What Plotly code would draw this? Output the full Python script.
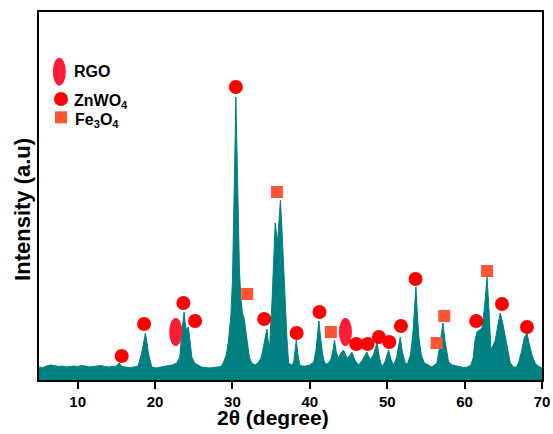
import plotly.graph_objects as go

# XRD pattern (2θ in degrees, intensity in arbitrary units)
two_theta = [5.0, 5.5, 6.0, 6.5, 7.0, 7.5, 8.0, 8.5, 9.0, 9.5, 10.0, 10.5, 11.0, 11.5, 12.0, 12.5,
             13.0, 13.5, 14.0, 14.5, 15.0, 15.35, 15.7, 16.2, 16.8, 17.3, 17.8, 18.28, 18.5, 18.75,
             19.0, 19.13, 19.57, 20.2, 20.7, 21.2, 21.7, 22.2, 22.8, 23.2, 23.4, 23.6, 23.75, 23.9,
             24.05, 24.3, 24.5, 24.75, 25.1, 25.5, 26.0, 26.5, 27.0, 27.5, 28.0, 28.5, 28.8, 29.2,
             29.5, 29.8, 30.0, 30.15, 30.3, 30.44, 30.6, 30.75, 30.9, 31.1, 31.3, 31.5, 31.7, 31.9,
             32.2, 32.5, 32.9, 33.3, 33.7, 34.0, 34.2, 34.45, 34.6, 34.8, 35.1, 35.3, 35.52, 35.82,
             36.0, 36.2, 36.4, 36.6, 36.8, 37.03, 37.25, 37.6, 37.9, 38.05, 38.25, 38.45, 38.7,
             39.0, 39.5, 40.0, 40.5, 40.8, 41.0, 41.17, 41.35, 41.6, 41.9, 42.3, 42.7, 43.0, 43.19,
             43.4, 43.7, 44.0, 44.35, 44.6, 44.79, 45.1, 45.43, 45.8, 46.3, 46.8, 47.37, 47.8,
             48.2, 48.67, 49.0, 49.3, 49.7, 50.17, 50.5, 50.8, 51.2, 51.45, 51.68, 51.95, 52.33,
             52.6, 53.0, 53.3, 53.5, 53.71, 53.9, 54.1, 54.4, 54.8, 55.3, 55.78, 56.1, 56.43, 56.8,
             57.2, 57.45, 57.7, 57.93, 58.4, 58.9, 59.4, 59.9, 60.4, 60.8, 61.1, 61.35, 61.6, 61.9,
             62.25, 62.6, 62.9, 63.15, 63.4, 63.7, 63.97, 64.3, 64.6, 64.9, 65.2, 65.48, 65.9,
             66.3, 66.7, 67.0, 67.4, 67.7, 68.06, 68.3, 68.7, 69.1, 69.5, 70.0]
intensity = [13, 12.5, 14, 15, 14.5, 13.5, 14, 13, 13.5, 14, 13.5, 14.5, 14, 13, 13.5, 14,
             14.5, 13.5, 13, 13.5, 14, 17, 13.5, 13, 12.5, 13, 14, 27, 38, 47,
             35, 27, 13, 12, 13, 13.5, 14, 15, 17, 23, 43, 60, 68, 56,
             50, 53, 40, 23, 17, 15, 13, 12.5, 12, 12.5, 13, 13.5, 17, 25,
             40, 65, 100, 150, 220, 283, 215, 150, 110, 80, 66, 62, 50, 35,
             22, 17, 15, 17, 22, 33, 42, 51, 40, 33, 77, 110, 157, 138,
             155, 180, 150, 110, 70, 43, 17, 15, 17, 26, 40, 26, 15,
             14, 14, 15, 18, 30, 45, 59, 45, 28, 17, 16, 20, 30, 40,
             28, 22, 27, 30, 25, 22, 24, 28, 20, 15, 20, 28, 20,
             25, 37, 22, 13, 18, 30, 20, 15, 22, 33, 43, 28, 17,
             16, 25, 45, 75, 93, 65, 42, 25, 17, 15, 13, 15, 17, 35,
             57, 40, 26, 18, 15, 14, 13, 12.5, 13, 15, 22, 40, 48, 50,
             52, 75, 103, 70, 30, 35, 40, 55, 67, 58, 45, 37, 17,
             13, 13, 18, 30, 42, 47, 38, 25, 17, 14, 12]

# Phase markers (2θ, height)
zn_theta = [15.69, 18.58, 23.66, 25.17, 30.44, 34.1, 38.3, 41.25, 46.0, 47.46, 48.93, 50.26,
            51.77, 53.66, 61.5, 64.83, 68.06]
zn_level = [24, 56, 77, 59, 293, 61, 47, 68, 36, 36, 43, 38, 54, 101, 59, 76, 53]
fe_theta = [31.9, 35.74, 42.72, 56.38, 57.37, 62.9]
fe_level = [86, 188, 48, 37, 64, 109]
rgo_theta = [22.67, 44.6]
rgo_level = [48, 48]

x_ticks = [10, 20, 30, 40, 50, 60, 70]

TEAL = "#008080"
RED = "#FF0000"
ORANGE = "#FF5533"
CRIMSON = "#FF1A35"
FONT = "Liberation Sans, Arial, sans-serif"

fig = go.Figure()
fig.add_trace(go.Scatter(x=two_theta, y=intensity, mode="lines", fill="tozeroy",
                         line=dict(color=TEAL, width=1), fillcolor=TEAL, hoverinfo="skip"))
fig.add_trace(go.Scatter(x=zn_theta, y=zn_level, mode="markers",
                         marker=dict(symbol="circle", size=14, color=RED, line=dict(width=0))))
fig.add_trace(go.Scatter(x=fe_theta, y=fe_level, mode="markers",
                         marker=dict(symbol="square", size=12, color=ORANGE, line=dict(width=0))))

shapes = []
for t, lv in zip(rgo_theta, rgo_level):
    shapes.append(dict(type="circle", xref="x", yref="y", xsizemode="pixel", ysizemode="pixel",
                       xanchor=t, yanchor=lv, x0=-6.5, x1=6.5, y0=-14, y1=14,
                       fillcolor=CRIMSON, line=dict(width=0), layer="above"))
# legend symbols
shapes.append(dict(type="circle", xref="paper", yref="paper", xsizemode="pixel", ysizemode="pixel",
                   xanchor=0.0404, yanchor=0.8378, x0=-6.5, x1=6.5, y0=-14, y1=14,
                   fillcolor=CRIMSON, line=dict(width=0)))
shapes.append(dict(type="circle", xref="paper", yref="paper", xsizemode="pixel", ysizemode="pixel",
                   xanchor=0.0437, yanchor=0.7636, x0=-7, x1=7, y0=-7, y1=7,
                   fillcolor=RED, line=dict(width=0)))
shapes.append(dict(type="rect", xref="paper", yref="paper", xsizemode="pixel", ysizemode="pixel",
                   xanchor=0.0437, yanchor=0.7139, x0=-6, x1=6, y0=-6, y1=6,
                   fillcolor=ORANGE, line=dict(width=0)))

leg_font = dict(family=FONT, size=16, color="black", weight="bold")
annotations = [
    dict(text="RGO", xref="paper", yref="paper", x=0.065, y=0.8378, xanchor="left",
         yanchor="middle", showarrow=False, font=leg_font),
    dict(text="ZnWO<sub>4</sub>", xref="paper", yref="paper", x=0.065, y=0.7636, xanchor="left",
         yanchor="middle", showarrow=False, font=leg_font, yshift=-3),
    dict(text="Fe<sub>3</sub>O<sub>4</sub>", xref="paper", yref="paper", x=0.068, y=0.7139,
         xanchor="left", yanchor="middle", showarrow=False, font=leg_font, yshift=-3),
    dict(text="2θ (degree)", xref="paper", yref="paper", x=0.465, y=-0.102, xanchor="center",
         yanchor="middle", showarrow=False,
         font=dict(family=FONT, size=21, color="black", weight="bold")),
    dict(text="Intensity (a.u)", xref="paper", yref="paper", x=-0.032, y=0.4647,
         xanchor="center", yanchor="middle", textangle=-90, showarrow=False,
         font=dict(family=FONT, size=22, color="black", weight="bold")),
]

fig.update_layout(
    width=553, height=434,
    margin=dict(l=39, r=11, t=12, b=54, autoexpand=False),
    plot_bgcolor="white", paper_bgcolor="white",
    showlegend=False,
    shapes=shapes, annotations=annotations,
    xaxis=dict(range=[5, 70], tickvals=x_ticks, ticktext=[str(v) for v in x_ticks],
               ticks="outside", ticklen=7, tickwidth=2, tickcolor="black",
               showline=True, linecolor="black", linewidth=2, mirror=True,
               showgrid=False, zeroline=False, automargin=False,
               tickfont=dict(family=FONT, size=15, color="black", weight="bold")),
    yaxis=dict(range=[0, 368], showticklabels=False, ticks="",
               showline=True, linecolor="black", linewidth=2, mirror=True,
               showgrid=False, zeroline=False, automargin=False),
)

fig.write_html("out.html")
